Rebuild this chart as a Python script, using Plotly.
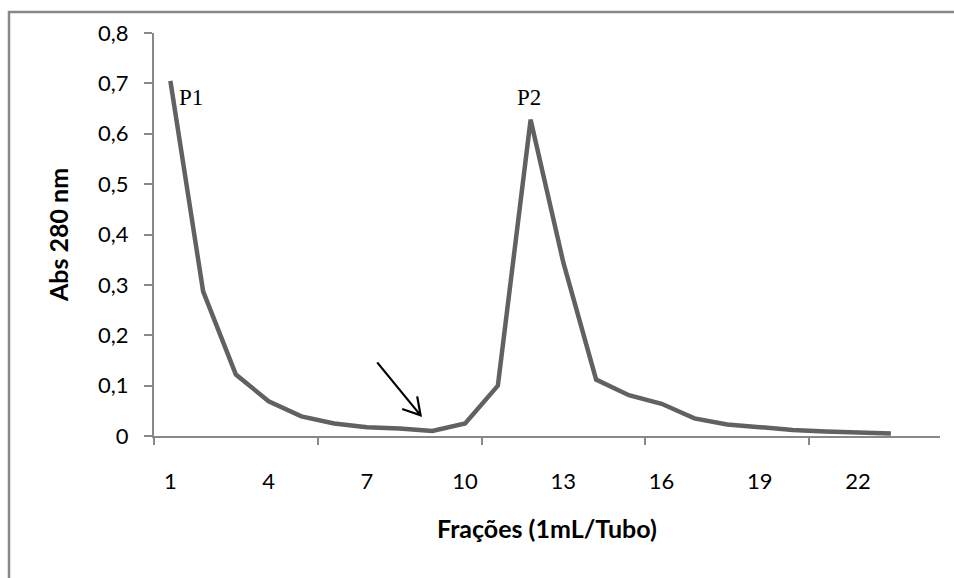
import plotly.graph_objects as go

fractions = list(range(1, 24))
absorbance = [0.705, 0.287, 0.122, 0.069, 0.039, 0.025, 0.0175, 0.015, 0.01, 0.025,
              0.1, 0.628, 0.344, 0.112, 0.081, 0.064, 0.035, 0.023, 0.0175, 0.012,
              0.009, 0.0063, 0.005]
x_tick_labels = [1, 4, 7, 10, 13, 16, 19, 22]
x_tick_marks = [0.5, 5.5, 10.5, 15.5, 20.5]
y_ticks = [0, 0.1, 0.2, 0.3, 0.4, 0.5, 0.6, 0.7, 0.8]
peak_labels = ["P1", "P2"]
peak_pos = [(1, 0.705), (12, 0.628)]
arrow_tip = (8.64, 0.041)
x_title = "Frações (1mL/Tubo)"
y_title = "Abs 280 nm"

axis_col = "#888888"
font_fam = "Lato, 'Open Sans', sans-serif"

fig = go.Figure()
fig.add_trace(go.Scatter(x=fractions, y=absorbance, mode="lines",
                         line=dict(color="#616161", width=4.5), hoverinfo="skip",
                         showlegend=False))
# invisible trace on overlay axis to carry tick marks
fig.add_trace(go.Scatter(x=[0.5, 24.5], y=[0, 0], xaxis="x2", mode="none",
                         showlegend=False, hoverinfo="skip"))

fig.update_layout(
    width=954, height=578,
    margin=dict(l=154, r=14, t=33, b=141.5),
    paper_bgcolor="white", plot_bgcolor="white",
    separators=",.",
    font=dict(family=font_fam, size=22, color="black"),
    xaxis=dict(range=[0.5, 24.5], tickmode="array", tickvals=x_tick_labels,
               ticks="", showgrid=False, zeroline=False,
               showline=True, linecolor=axis_col, linewidth=2,
               ticklabelstandoff=25,
               tickfont=dict(family=font_fam, size=22)),
    xaxis2=dict(range=[0.5, 24.5], overlaying="x", side="bottom",
                tickmode="array", tickvals=x_tick_marks, ticks="outside",
                ticklen=8, tickwidth=2, tickcolor=axis_col,
                showticklabels=False, showgrid=False, zeroline=False,
                showline=False),
    yaxis=dict(range=[0, 0.8], tickmode="array", tickvals=y_ticks,
               ticks="outside", ticklen=8, tickwidth=2, tickcolor=axis_col,
               showgrid=False, zeroline=False,
               showline=True, linecolor=axis_col, linewidth=2,
               ticklabelstandoff=11,
               tickfont=dict(family=font_fam, size=22),
               title=dict(text="<b>" + y_title + "</b>", standoff=22,
                          font=dict(family=font_fam, size=25))),
    shapes=[dict(type="rect", xref="paper", yref="paper",
                 x0=(9 - 154) / 786, x1=1.5, y0=-1, y1=(436.5 - 12) / 403.5,
                 line=dict(color=axis_col, width=2.5), fillcolor="rgba(0,0,0,0)",
                 layer="below"),
            # open-headed arrow pointing at the dip (pixel offsets from the tip)
            dict(type="path", xref="x", yref="y", xsizemode="pixel", ysizemode="pixel",
                 xanchor=arrow_tip[0], yanchor=arrow_tip[1],
                 path="M -43.4,53 L 0,0 M -18.4,6.4 L 0,0 L -3.4,19",
                 line=dict(color="black", width=2.2))],
)

fig.add_annotation(x=0.5, y=(436.5 - 529) / 403.5, xref="paper", yref="paper",
                   text="<b>" + x_title + "</b>", showarrow=False,
                   xanchor="center", yanchor="middle",
                   font=dict(family=font_fam, size=25))
fig.add_annotation(x=peak_pos[0][0], y=peak_pos[0][1], text=peak_labels[0],
                   showarrow=False, xanchor="left", yanchor="top",
                   xshift=7, yshift=-2,
                   font=dict(family="Liberation Serif, serif", size=23))
fig.add_annotation(x=peak_pos[1][0], y=peak_pos[1][1], text=peak_labels[1],
                   showarrow=False, xanchor="center", yanchor="bottom",
                   xshift=-2, yshift=8,
                   font=dict(family="Liberation Serif, serif", size=23))

fig.write_html("out.html")
